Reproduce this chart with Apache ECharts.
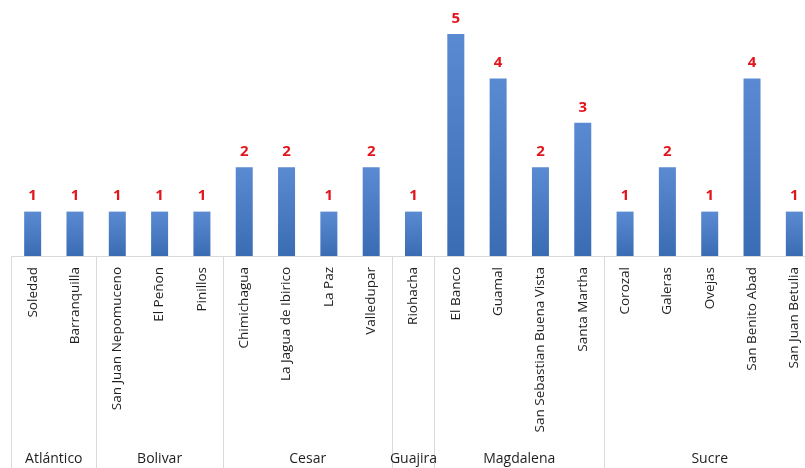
<!DOCTYPE html>
<html><head><meta charset="utf-8">
<script src="https://cdn.jsdelivr.net/npm/echarts@6/dist/echarts.min.js"></script>
<style>html,body{margin:0;padding:0;background:#fff;overflow:hidden;width:805px;height:468px}#c{width:816px;height:468px}</style>
</head><body><div id="c"></div>
<script>
var cities = ["Soledad","Barranquilla","San Juan Nepomuceno","El Peñon","Pinillos","Chimichagua","La Jagua de Ibirico","La Paz","Valledupar","Riohacha","El Banco","Guamal","San Sebastian Buena Vista","Santa Martha","Corozal","Galeras","Ovejas","San Benito Abad","San Juan Betulia"];
var values = [1,1,1,1,1,2,2,1,2,1,5,4,2,3,1,2,1,4,1];
var groups = ["Atlántico","Bolivar","Cesar","Guajira","Magdalena","Sucre"];
var groupSizes = [2,3,4,1,4,5];

var bounds = [0], centers = [];
groupSizes.forEach(function(s){ var b = bounds[bounds.length-1]; centers.push(b + s/2); bounds.push(b + s); });

var chart = echarts.init(document.getElementById('c'));
chart.setOption({
  animation: false,
  grid: {left: 11.5, top: 34, right: 0.5, height: 222, containLabel: false},
  xAxis: [{
    type: 'category', data: cities, position: 'bottom',
    axisLine: {show: true, lineStyle: {color: '#d9d9d9', width: 1}},
    axisTick: {show: false},
    axisLabel: {rotate: 90, interval: 0, margin: 11, fontFamily: 'Open Sans', fontSize: 13.5, color: '#1f1f1f'}
  }, {
    type: 'value', min: 0, max: 19, position: 'bottom',
    axisLine: {show: false},
    splitLine: {show: false},
    axisTick: {show: true, customValues: bounds, length: 212, lineStyle: {color: '#d9d9d9', width: 1}},
    axisLabel: {show: true, customValues: centers, margin: 196, fontFamily: 'Open Sans', fontSize: 14, color: '#1f1f1f',
      formatter: function(v){ var i = centers.indexOf(v); return i >= 0 ? groups[i] : ''; }}
  }],
  yAxis: {type: 'value', min: 0, max: 5, show: false, splitLine: {show: false}},
  series: [{
    type: 'bar', data: values, barWidth: 17, xAxisIndex: 0,
    itemStyle: {color: new echarts.graphic.LinearGradient(0,0,0,1,[{offset:0,color:'#5a8ad2'},{offset:1,color:'#3a6cb4'}])},
    label: {show: true, position: 'top', distance: 8, color: '#e3141c', fontWeight: 'bold', fontFamily: 'Open Sans', fontSize: 15}
  }]
});
</script></body></html>
